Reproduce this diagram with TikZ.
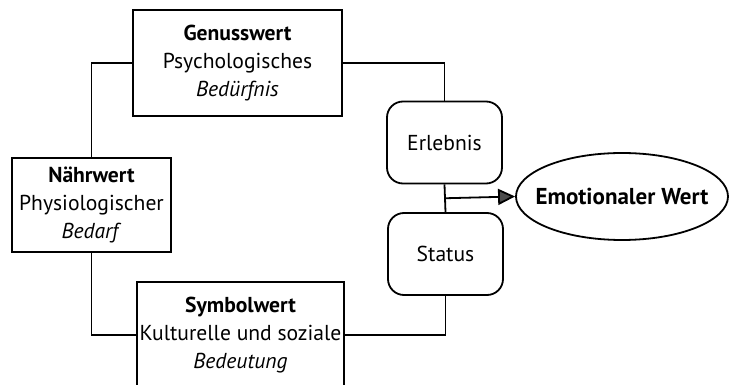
\documentclass[tikz,border=0pt]{standalone}
\usepackage{fontspec}
\setmainfont{PT Sans}
\usetikzlibrary{arrows.meta,positioning,calc,shapes.geometric}
\begin{document}
\begin{tikzpicture}[
  x=0.5pt,y=-0.5pt,
  font=\fontsize{10.8}{14}\selectfont,
  box/.style={draw,line width=0.9pt,align=center,inner sep=0pt},
  rbox/.style={draw,line width=0.9pt,rounded corners=8pt,align=center,
               minimum width=57.5pt,minimum height=41pt},
  link/.style={line width=0.9pt},
  arr/.style={line width=0.9pt,-{Triangle[length=8.5pt,width=8pt,fill=black!70]}}]
\useasboundingbox (0,0) rectangle (730,385);
\node[box,minimum width=104.5pt,minimum height=53pt] (genuss) at (237.5,63)
  {\textbf{Genusswert}\\Psychologisches\\\textit{Bedürfnis}};
\node[box,minimum width=79.5pt,minimum height=47pt] (naehr) at (91.5,205)
  {\textbf{Nährwert}\\Physiologischer\\\textit{Bedarf}};
\node[box,minimum width=103.5pt,minimum height=53pt] (symbol) at (240.5,335)
  {\textbf{Symbolwert}\\Kulturelle und soziale\\\textit{Bedeutung}};
\node[rbox] (erleb) at (444.5,142.5) {Erlebnis};
\node[rbox] (status) at (445.5,254) {Status};
\node[draw,line width=0.9pt,ellipse,inner sep=0pt,minimum width=106pt,
      minimum height=43.5pt,
      label={[font=\fontsize{11.5}{14}\selectfont\bfseries]center:Emotionaler Wert}]
  (emo) at (622,196.5) {};
\coordinate (mid) at ($(erleb.south)!0.5!(status.north)$);
% Verbindungen
\draw[link] (naehr.north) |- (genuss.west);\draw[link] (naehr.south) |- (symbol.west);
\draw[link] (genuss.east) -| (erleb.north);\draw[link] (status.south) |- (symbol.east);
\draw[link] (erleb.south) -- (status.north);
\draw[arr] (mid) -- (emo.west);
\end{tikzpicture}
\end{document}
